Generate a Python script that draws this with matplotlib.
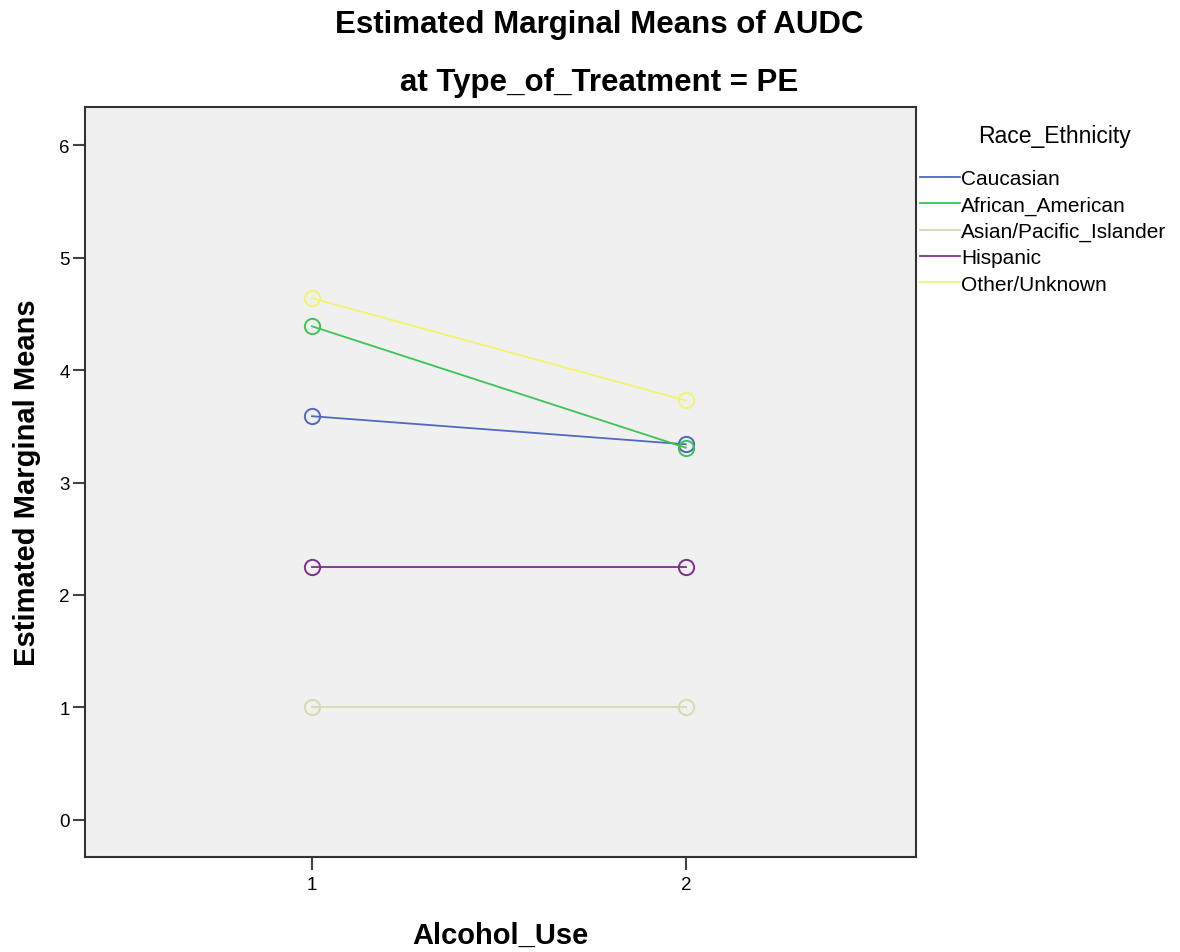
import matplotlib
matplotlib.use("Agg")
from matplotlib import pyplot as plt

# data
alcohol_use = [1, 2]
groups = ["Caucasian", "African_American", "Asian/Pacific_Islander", "Hispanic", "Other/Unknown"]
caucasian = [3.59, 3.34]
african_american = [4.39, 3.31]
asian_pacific = [1.00, 1.00]
hispanic = [2.25, 2.25]
other_unknown = [4.64, 3.73]
y_ticks = [0, 1, 2, 3, 4, 5, 6]

series = [caucasian, african_american, asian_pacific, hispanic, other_unknown]
colors = ["#5068bd", "#3cc452", "#d9d7b0", "#7e2f8e", "#f4f36e"]

plt.rcParams["font.family"] = ["Liberation Sans", "DejaVu Sans"]

fig = plt.figure(figsize=(11.80, 9.53), dpi=100)
ax = fig.add_axes([0.072, 0.0997, 0.704, 0.787])
ax.set_facecolor("#f0f0f0")

handles = []
for vals, name, c in zip(series, groups, colors):
    ax.plot(alcohol_use, vals, color=c, lw=1.3, marker="o", markersize=11,
            markerfacecolor="none", markeredgewidth=1.4, markeredgecolor=c)
    h, = ax.plot([], [], color=c, lw=1.3, label=name)
    handles.append(h)

ax.set_xlim(0.393, 2.615)
ax.set_ylim(-0.33, 6.34)
ax.set_xticks(alcohol_use)
ax.set_yticks(y_ticks)
ax.tick_params(labelsize=13.5, length=9, width=1.5, color="#444444")
ax.tick_params(axis="y", pad=2)
ax.tick_params(axis="x", pad=5)
for s in ax.spines.values():
    s.set_linewidth(1.5)
    s.set_color("#333333")

ax.set_xlabel("Alcohol_Use", fontsize=21, fontweight="bold", labelpad=20)
ax.set_ylabel("Estimated Marginal Means", fontsize=21, fontweight="bold", labelpad=13)

fig.text(0.508, 0.974, "Estimated Marginal Means of AUDC", ha="center", va="center",
         fontsize=22.5, fontweight="bold")
fig.text(0.508, 0.913, "at Type_of_Treatment = PE", ha="center", va="center",
         fontsize=22.5, fontweight="bold")

leg = fig.legend(handles=handles, loc="upper left", bbox_to_anchor=(0.7797, 0.869),
                 frameon=False, fontsize=15, title="Race_Ethnicity", title_fontsize=16.5,
                 handlelength=1.9, handletextpad=0.08, labelspacing=0.35, borderaxespad=0,
                 borderpad=0)
leg._legend_box.align = "left"
leg._legend_box.sep = 16
leg.get_title().set_position((58, 0))

fig.savefig("out.png", dpi=100)
